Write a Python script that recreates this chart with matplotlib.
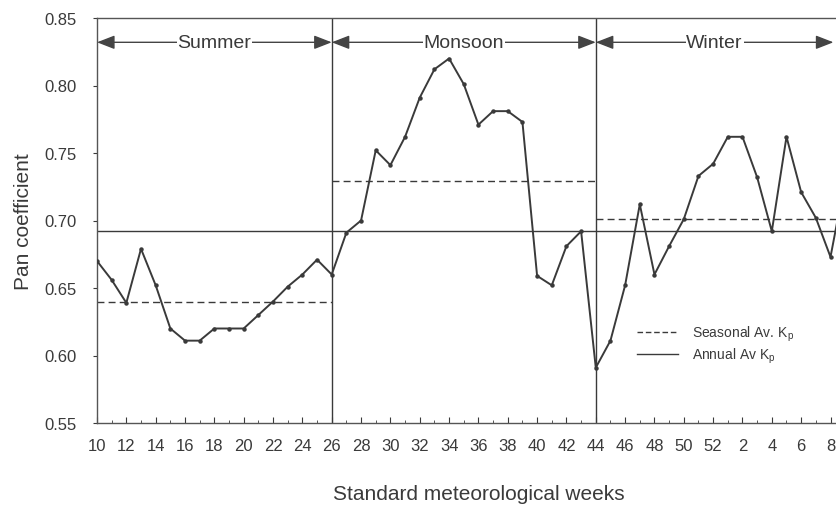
import numpy as np
import matplotlib
matplotlib.use('Agg')
import matplotlib.pyplot as plt
from matplotlib.lines import Line2D

plt.rcParams['font.family'] = ['Liberation Sans', 'DejaVu Sans']

# 標準気象週（10〜52週、翌年1〜9週）
weeks = list(range(10, 53)) + list(range(1, 10))
pan_coef = [0.670, 0.656, 0.639, 0.679, 0.652, 0.620, 0.611, 0.611, 0.620, 0.620,
            0.620, 0.630, 0.640, 0.651, 0.660, 0.671, 0.660,
            0.691, 0.700, 0.752, 0.741, 0.762, 0.791, 0.812, 0.820, 0.801,
            0.771, 0.781, 0.781, 0.773, 0.659, 0.652, 0.681, 0.692, 0.591,
            0.611, 0.652, 0.712, 0.660, 0.681, 0.701, 0.733, 0.742, 0.762,
            0.762, 0.732, 0.692, 0.762, 0.721, 0.702, 0.673, 0.730]

# 季節区分（開始週・終了週のインデックス）と季節平均
seasons = ['Summer', 'Monsoon', 'Winter']
season_start = [0, 16, 34]
season_end = [16, 34, 50.2]
seasonal_avg = [0.640, 0.729, 0.701]
seasonal_avg_end = [16, 34, 52]
annual_avg = 0.692

tick_weeks = [10, 12, 14, 16, 18, 20, 22, 24, 26, 28, 30, 32, 34, 36, 38, 40,
              42, 44, 46, 48, 50, 52, 2, 4, 6, 8]

dark = '#3a3a3a'
x = np.arange(len(weeks))

fig = plt.figure(figsize=(8.37, 5.06), dpi=100)
ax = fig.add_axes([97 / 837, 82 / 506, 52 * 14.67 / 837, 405 / 506])

ax.plot(x, pan_coef, color=dark, lw=1.4, marker='o', ms=2.2, zorder=3)

# 年平均・季節平均
ax.axhline(annual_avg, color=dark, lw=1.0, zorder=2)
for s, e, v in zip(season_start, seasonal_avg_end, seasonal_avg):
    ax.plot([s, e], [v, v], color=dark, lw=1.0, ls=(0, (5, 3)), zorder=2)

# 季節の境界線
for b in season_start[1:]:
    ax.axvline(b, color=dark, lw=1.0, zorder=2)

# 季節の矢印とラベル
for name, s, e in zip(seasons, season_start, season_end):
    ax.annotate('', xy=(e, 0.832), xytext=(s, 0.832),
                arrowprops=dict(arrowstyle='<|-|>,head_length=0.9,head_width=0.35',
                                color='#444444', lw=1.0, shrinkA=0, shrinkB=0,
                                mutation_scale=12), zorder=4)
    ax.text((s + e) / 2, 0.832, name, ha='center', va='center', fontsize=14,
            color=dark, zorder=5,
            bbox=dict(facecolor='white', edgecolor='none', pad=0.5))

ax.set_xlim(0, 52)
ax.set_ylim(0.55, 0.85)
ax.set_yticks(np.arange(0.55, 0.851, 0.05))
ax.set_yticklabels([f'{v:.2f}' for v in np.arange(0.55, 0.851, 0.05)])
tick_pos = [weeks.index(w) for w in tick_weeks]
ax.set_xticks(tick_pos)
ax.set_xticklabels([str(w) for w in tick_weeks])
ax.set_xticks(x, minor=True)

ax.tick_params(axis='x', which='major', direction='in', length=4, pad=11,
               labelsize=12, colors=dark)
ax.tick_params(axis='x', which='minor', direction='in', length=2, colors=dark)
ax.tick_params(axis='y', direction='out', length=3, pad=12, labelsize=12, colors=dark)

for sp in ax.spines.values():
    sp.set_color('#555555')
    sp.set_linewidth(1.0)

ax.set_xlabel('Standard meteorological weeks', fontsize=15, color=dark, labelpad=22)
ax.set_ylabel('Pan coefficient', fontsize=15, color=dark, labelpad=8)

handles = [Line2D([0], [0], color=dark, lw=1.0, ls=(0, (4, 2))),
           Line2D([0], [0], color=dark, lw=1.0)]
fig.legend(handles, ['Seasonal Av. K$_\\mathregular{p}$', 'Annual Av K$_\\mathregular{p}$'],
           loc='upper left', bbox_to_anchor=(624 / 837, (506 - 312) / 506),
           frameon=False, fontsize=10, handlelength=3.0, handletextpad=1.0,
           labelspacing=0.2, labelcolor=dark)

fig.savefig('out.png', dpi=100)
